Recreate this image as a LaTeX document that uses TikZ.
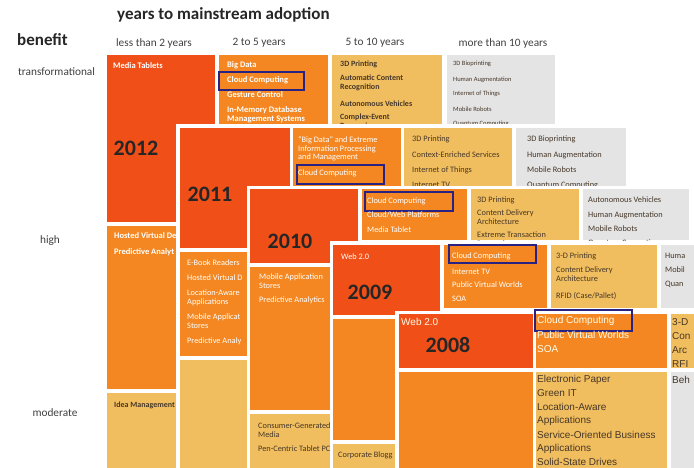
\documentclass[tikz,border=0pt]{standalone}
\usepackage{fontspec}
\setmainfont{Carlito}
\newfontfamily\oldfont{Liberation Sans}

\definecolor{yrred}{RGB}{241,79,24}
\definecolor{yrorange}{RGB}{244,135,33}
\definecolor{yrlight}{RGB}{241,190,95}
\definecolor{yrgray}{RGB}{228,228,228}
\definecolor{yrblue}{RGB}{40,35,130}
\definecolor{yrtext}{RGB}{70,55,40}

\tikzset{
	itemw/.style={anchor=west, inner sep=0pt, text=white, align=left, font=\fontsize{8.3}{8.7}\selectfont},
	itemd/.style={itemw, text=yrtext},
	boldw/.style={itemw, font=\fontsize{8.5}{9}\selectfont\bfseries},
	boldd/.style={itemw, text=yrtext, font=\fontsize{8}{8.5}\selectfont\bfseries},
	thind/.style={itemw, text=yrtext, font=\fontsize{6.5}{7.5}\selectfont},
	bigw/.style={anchor=west, inner sep=0pt, text=white!92!yellow, font=\oldfont\fontsize{10}{14}\selectfont},
	bigd/.style={bigw, text=yrtext},
	yearlbl/.style={inner sep=0pt, text=black!85, font=\fontsize{22}{22}\selectfont\bfseries},
	hilite/.style={draw=yrblue, line width=1.3pt},
	hdr/.style={inner sep=0pt, text=black!75, font=\fontsize{11.3}{12}\selectfont}
}

\begin{document}
\begin{tikzpicture}[x=1pt, y=-1pt]
		\useasboundingbox (0,0) rectangle (694,467);
		\clip (0,0) rectangle (694,467);

		% headings
		\node[inner sep=0pt, font=\fontsize{17}{18}\selectfont\bfseries, text=black!85, anchor=west] (title) at (117,15) {years to mainstream adoption};
		\node[inner sep=0pt, font=\fontsize{17}{18}\selectfont\bfseries, text=black!85, anchor=west] (benefit) at (17,40) {benefit};
		\node[hdr] (h1) at (154,43) {less than 2 years};
		\node[hdr] (h2) at (259,43) {2 to 5 years};
		\node[hdr] (h3) at (375,43) {5 to 10 years};
		\node[hdr] (h4) at (503,43) {more than 10 years};
		\node[hdr, anchor=west] (transf) at (18,72) {transformational};
		\node[hdr] (high) at (50,241) {high};
		\node[hdr] (moderate) at (55,413) {moderate};

		% 2012
		\fill[yrred] (107,55) rectangle (215,222);
		\fill[yrorange] (107,226) rectangle (215,389);
		\fill[yrlight] (107,393) rectangle (215,470);
		\fill[yrorange] (219,55) rectangle (328,222);
		\fill[yrlight] (332,55) rectangle (442,222);
		\fill[yrgray] (447,55) rectangle (555,222);
		\node[yearlbl] (y2012) at (136,148) {2012};
		\node[boldw] (t12a) at (113,66) {Media Tablets};
		\node[boldw] (t12b) at (227,65) {Big Data};
		\node[boldw] (t12c) at (227,80) {Cloud Computing};
		\draw[hilite] (219,72) rectangle (304,90);
		\node[boldw] (t12d) at (227,95) {Gesture Control};
		\node[boldw] (t12e) at (227,114.5) {In-Memory Database\\Management Systems};
		\node[boldd] (t12f) at (340,64) {3D Printing};
		\node[boldd] (t12g) at (340,83) {Automatic Content\\Recognition};
		\node[boldd] (t12h) at (340,104) {Autonomous Vehicles};
		\node[boldd] (t12i) at (340,122) {Complex-Event\\Processing};
		\node[thind] (t12j) at (453,64) {3D Bioprinting};
		\node[thind] (t12k) at (453,80) {Human Augmentation};
		\node[thind] (t12l) at (453,94) {Internet of Things};
		\node[thind] (t12m) at (453,109) {Mobile Robots};
		\node[thind] (t12n) at (453,124) {Quantum Computing};
		\node[boldw] (t12o) at (114,236) {Hosted Virtual De};
		\node[boldw] (t12p) at (114,252) {Predictive Analyt};
		\node[boldd] (t12q) at (114,405) {Idea Management};

		% 2011
		\fill[white] (176,124) rectangle (630,470);
		\fill[yrred] (180,128) rectangle (290,248);
		\fill[yrorange] (180,252) rectangle (290,356);
		\fill[yrlight] (180,360) rectangle (290,470);
		\fill[yrorange] (293,128) rectangle (401,186);
		\fill[yrlight] (404,128) rectangle (512,186);
		\fill[yrgray] (516,128) rectangle (626,186);
		\node[yearlbl] (y2011) at (210,194) {2011};
		\node[itemw] (t11a) at (298,149) {``Big Data'' and Extreme\\Information Processing\\and Management};
		\node[itemw] (t11b) at (298,173) {Cloud Computing};
		\draw[hilite] (297,165) rectangle (384,184);
		\node[itemd] (t11c) at (412,139) {3D Printing};
		\node[itemd] (t11d) at (412,155) {Context-Enriched Services};
		\node[itemd] (t11e) at (412,170) {Internet of Things};
		\node[itemd] (t11f) at (412,185) {Internet TV};
		\node[itemd] (t11g) at (527,139) {3D Bioprinting};
		\node[itemd] (t11h) at (527,155) {Human Augmentation};
		\node[itemd] (t11i) at (527,170) {Mobile Robots};
		\node[itemd] (t11j) at (527,185) {Quantum Computing};
		\node[itemw] (t11k) at (187,263) {E-Book Readers};
		\node[itemw] (t11l) at (187,278) {Hosted Virtual D};
		\node[itemw] (t11m) at (187,298) {Location-Aware\\Applications};
		\node[itemw] (t11n) at (187,321) {Mobile Applicat\\Stores};
		\node[itemw] (t11o) at (187,341) {Predictive Analy};

		% 2010
		\fill[white] (247,186) rectangle (700,470);
		\fill[yrred] (250,189) rectangle (358,263);
		\fill[yrorange] (250,267) rectangle (358,410);
		\fill[yrlight] (250,414) rectangle (358,470);
		\fill[yrorange] (362,189) rectangle (467,240);
		\fill[yrlight] (471,189) rectangle (579,240);
		\fill[yrgray] (583,189) rectangle (689,240);
		\node[yearlbl] (y2010) at (290,241) {2010};
		\node[itemw] (t10a) at (367,201) {Cloud Computing};
		\draw[hilite] (365,192) rectangle (453,211);
		\node[itemw] (t10b) at (367,215) {Cloud/Web Platforms};
		\node[itemw] (t10c) at (367,230) {Media Tablet};
		\node[itemd] (t10d) at (477,200) {3D Printing};
		\node[itemd] (t10e) at (477,217) {Content Delivery\\Architecture};
		\node[itemd] (t10f) at (477,240) {Extreme Transaction\\Processing};
		\node[itemd] (t10g) at (588,200) {Autonomous Vehicles};
		\node[itemd] (t10h) at (588,215) {Human Augmentation};
		\node[itemd] (t10i) at (588,229) {Mobile Robots};
		\node[itemd] (t10j) at (588,243) {Quantum Computing};
		\node[itemw] (t10k) at (259,281) {Mobile Application\\Stores};
		\node[itemw] (t10l) at (259,300) {Predictive Analytics};
		\node[itemd] (t10m) at (258,430) {Consumer-Generated\\Media};
		\node[itemd] (t10n) at (258,449) {Pen-Centric Tablet PC};

		% 2009
		\fill[white] (330,241) rectangle (700,470);
		\fill[yrred] (333,245) rectangle (440,315);
		\fill[yrorange] (333,319) rectangle (395,440);
		\fill[yrlight] (333,444) rectangle (440,470);
		\fill[yrorange] (444,245) rectangle (547,308);
		\fill[yrlight] (551,245) rectangle (657,308);
		\fill[yrgray] (661,245) rectangle (700,308);
		\node[yearlbl] (y2009) at (370,292) {2009};
		\node[itemw] (t09a) at (341,257) {Web 2.0};
		\node[itemw] (t09b) at (452,256) {Cloud Computing};
		\draw[hilite] (449,245) rectangle (536,263);
		\node[itemw] (t09c) at (452,272) {Internet TV};
		\node[itemw] (t09d) at (452,285) {Public Virtual Worlds};
		\node[itemw] (t09e) at (452,299) {SOA};
		\node[itemd] (t09f) at (556,256) {3-D Printing};
		\node[itemd] (t09g) at (556,274) {Content Delivery\\Architecture};
		\node[itemd] (t09h) at (556,296) {RFID (Case/Pallet)};
		\node[itemd] (t09i) at (665,256) {Huma};
		\node[itemd] (t09j) at (665,270) {Mobil};
		\node[itemd] (t09k) at (665,284) {Quan};
		\node[itemd] (t09l) at (338,455) {Corporate Blogg};

		% 2008
		\fill[white] (395,311) rectangle (700,470);
		\fill[yrred] (399,314) rectangle (533,368);
		\fill[yrorange] (536,314) rectangle (667,368);
		\fill[yrlight] (671,314) rectangle (700,368);
		\fill[yrorange] (399,372) rectangle (533,470);
		\fill[yrlight] (536,372) rectangle (667,470);
		\fill[yrgray] (671,372) rectangle (700,470);
		\node[yearlbl] (y2008) at (448,345) {2008};
		\node[bigw] (t08a) at (401,322) {Web 2.0};
		\node[bigw] (t08b) at (537,321) {Cloud Computing};
		\draw[hilite] (535,310) rectangle (632,331);
		\node[bigw] (t08c) at (537,335) {Public Virtual Worlds};
		\node[bigw] (t08d) at (537,349) {SOA};
		\node[bigd] (t08e) at (672,322) {3-D};
		\node[bigd] (t08f) at (672,336) {Con};
		\node[bigd] (t08g) at (672,350) {Arc};
		\node[bigd] (t08h) at (672,364) {RFI};
		\node[bigd] (t08i) at (537,380) {Electronic Paper};
		\node[bigd] (t08j) at (537,393) {Green IT};
		\node[bigd] (t08k) at (537,407) {Location-Aware};
		\node[bigd] (t08l) at (537,421) {Applications};
		\node[bigd] (t08m) at (537,435) {Service-Oriented Business};
		\node[bigd] (t08n) at (537,449) {Applications};
		\node[bigd] (t08o) at (537,462) {Solid-State Drives};
		\node[bigd] (t08p) at (672,380) {Beh};

		\end{tikzpicture}
\end{document}
